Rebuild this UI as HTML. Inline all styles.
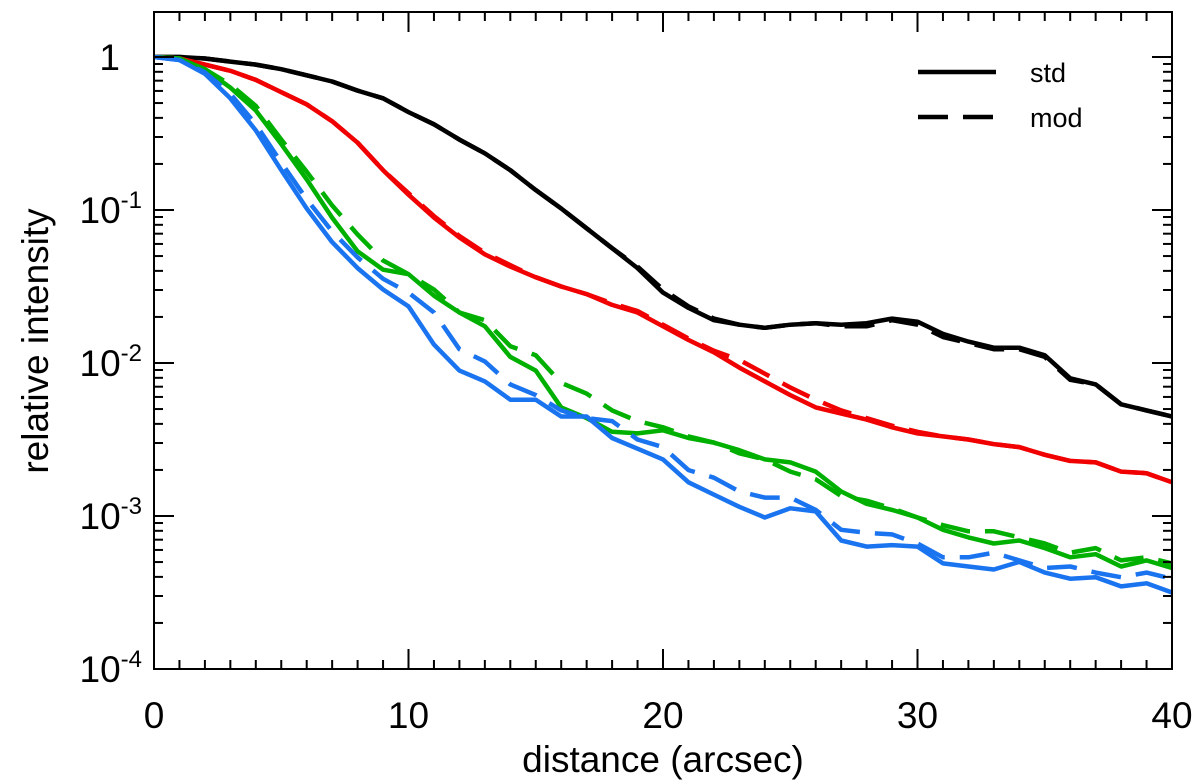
<!DOCTYPE html>
<html><head><meta charset="utf-8"><style>
html,body{margin:0;padding:0;background:#fff;}
svg{display:block;font-family:"Liberation Sans",sans-serif;}
</style></head><body>
<svg id="chart" width="1200" height="784">
<g id="plot"></g>
</svg>
<script>
const distances = Array.from({length:41},(_,i)=>i);
const blackStd = [0,0,-0.01,-0.03,-0.05,-0.08,-0.12,-0.16,-0.22,-0.27,-0.36,-0.44,-0.54,-0.63,-0.74,-0.87,-0.99,-1.12,-1.25,-1.38,-1.54,-1.64,-1.72,-1.75,-1.77,-1.75,-1.74,-1.75,-1.74,-1.71,-1.73,-1.81,-1.86,-1.90,-1.90,-1.95,-2.10,-2.14,-2.27,-2.31,-2.35];
const blackMod = [0,0,-0.01,-0.03,-0.05,-0.08,-0.12,-0.16,-0.22,-0.27,-0.36,-0.44,-0.54,-0.63,-0.74,-0.87,-0.99,-1.12,-1.25,-1.37,-1.52,-1.63,-1.71,-1.75,-1.77,-1.75,-1.74,-1.76,-1.76,-1.72,-1.75,-1.83,-1.87,-1.91,-1.91,-1.96,-2.11,-2.14,-2.27,-2.31,-2.35];
const redStd = [0,-0.01,-0.05,-0.09,-0.15,-0.23,-0.31,-0.42,-0.56,-0.74,-0.90,-1.05,-1.18,-1.29,-1.37,-1.44,-1.50,-1.55,-1.62,-1.67,-1.76,-1.85,-1.93,-2.03,-2.12,-2.21,-2.29,-2.33,-2.37,-2.42,-2.46,-2.48,-2.50,-2.53,-2.55,-2.60,-2.64,-2.65,-2.71,-2.72,-2.78];
const redMod = [0,-0.01,-0.05,-0.09,-0.15,-0.23,-0.31,-0.42,-0.56,-0.74,-0.89,-1.04,-1.17,-1.28,-1.36,-1.44,-1.50,-1.55,-1.61,-1.66,-1.75,-1.84,-1.92,-1.98,-2.07,-2.16,-2.24,-2.31,-2.36,-2.41,-2.45,-2.48,-2.50,-2.53,-2.55,-2.60,-2.64,-2.65,-2.71,-2.72,-2.78];
const greenStd = [0,-0.01,-0.08,-0.20,-0.35,-0.57,-0.80,-1.05,-1.27,-1.39,-1.42,-1.56,-1.67,-1.76,-1.96,-2.05,-2.29,-2.36,-2.45,-2.46,-2.44,-2.49,-2.52,-2.57,-2.63,-2.65,-2.71,-2.84,-2.92,-2.96,-3.01,-3.09,-3.14,-3.18,-3.16,-3.21,-3.27,-3.25,-3.33,-3.29,-3.34];
const greenMod = [0,-0.01,-0.08,-0.18,-0.32,-0.54,-0.75,-0.97,-1.16,-1.33,-1.42,-1.52,-1.67,-1.72,-1.89,-1.95,-2.13,-2.20,-2.31,-2.38,-2.42,-2.48,-2.52,-2.59,-2.63,-2.71,-2.76,-2.87,-2.90,-2.95,-3.01,-3.06,-3.10,-3.10,-3.14,-3.18,-3.24,-3.21,-3.29,-3.27,-3.31];
const blueStd = [0,-0.02,-0.11,-0.27,-0.48,-0.74,-0.99,-1.21,-1.38,-1.52,-1.63,-1.88,-2.05,-2.12,-2.24,-2.24,-2.35,-2.35,-2.49,-2.56,-2.63,-2.78,-2.86,-2.94,-3.01,-2.95,-2.97,-3.16,-3.20,-3.19,-3.20,-3.31,-3.33,-3.35,-3.30,-3.37,-3.41,-3.40,-3.46,-3.44,-3.50];
const blueMod = [0,-0.02,-0.10,-0.24,-0.44,-0.69,-0.93,-1.14,-1.31,-1.45,-1.54,-1.67,-1.91,-1.99,-2.14,-2.21,-2.31,-2.36,-2.38,-2.50,-2.55,-2.70,-2.75,-2.84,-2.88,-2.88,-2.96,-3.09,-3.11,-3.12,-3.18,-3.27,-3.27,-3.24,-3.29,-3.34,-3.33,-3.37,-3.40,-3.37,-3.41];
const xTicks = [0,10,20,30,40];
const yDecades = [0,-1,-2,-3,-4];

const NS="http://www.w3.org/2000/svg";
const g=document.getElementById('plot');
const L=154,R=1172,T=12,B=669;
const X=v=>L+(v-0)/(40-0)*(R-L);
const LOGMAX=0.294,LOGMIN=-4;
const Y=lv=>T+(LOGMAX-lv)/(LOGMAX-LOGMIN)*(B-T);
function mk(tag,attrs){const e=document.createElementNS(NS,tag);for(const k in attrs)e.setAttribute(k,attrs[k]);g.appendChild(e);return e;}

const series=[
 [blackStd,'#000','none','black-std-line'],[blackMod,'#000','30 15','black-mod-line'],
 [redStd,'#f00000','none','red-std-line'],[redMod,'#f00000','30 15','red-mod-line'],
 [greenStd,'#00b000','none','green-std-line'],[greenMod,'#00b000','30 15','green-mod-line'],
 [blueStd,'#1a74f0','none','blue-std-line'],[blueMod,'#1a74f0','30 15','blue-mod-line']];
series.forEach(s=>{
  const d=s[0].map((v,i)=>(i?'L':'M')+X(distances[i]).toFixed(1)+' '+Y(v).toFixed(1)).join(' ');
  const p=mk('path',{d:d,fill:'none',stroke:s[1],'stroke-width':4.5,'stroke-dasharray':s[2],'stroke-linejoin':'round'});
  
  
});

const fr=mk('rect',{x:L,y:T,width:R-L,height:B-T,fill:'none',stroke:'#000','stroke-width':2});



for(let v=0;v<=40;v++){
  const len=(v%10===0)?20:9;
  const t1=mk('line',{x1:X(v),x2:X(v),y1:B,y2:B-len,stroke:'#000','stroke-width':2});
  
  
  const t2=mk('line',{x1:X(v),x2:X(v),y1:T,y2:T+len,stroke:'#000','stroke-width':2});
  
  
}
xTicks.forEach(v=>{
  const t=mk('text',{x:X(v),y:728,'text-anchor':'middle','font-size':37});
  t.textContent=v;
  
  
});
for(let d=-4;d<=0;d++){
  for(let m=1;m<=9;m++){
    const lv=d+Math.log10(m);
    if(lv>LOGMAX)continue;
    const len=m===1?20:9;
    const a=mk('line',{x1:L,x2:L+len,y1:Y(lv),y2:Y(lv),stroke:'#000','stroke-width':2});
    
    
    const b=mk('line',{x1:R,x2:R-len,y1:Y(lv),y2:Y(lv),stroke:'#000','stroke-width':2});
    
    
  }
}
yDecades.forEach(d=>{
  const t=mk('text',{x:142,y:Y(d)+13,'text-anchor':'end','font-size':37});
  
  
  if(d===0){t.setAttribute('x',120);t.textContent='1';}
  else{
    const a=document.createElementNS(NS,'tspan');a.textContent='10';t.appendChild(a);
    const b=document.createElementNS(NS,'tspan');b.setAttribute('dy',-15);b.setAttribute('font-size',24);b.textContent=String(d);t.appendChild(b);
  }
});
const xt=mk('text',{x:663,y:772,'text-anchor':'middle','font-size':37});
xt.textContent='distance (arcsec)';


const yt=mk('text',{x:0,y:0,'text-anchor':'middle','font-size':37,transform:'translate(48,341) rotate(-90)'});
yt.textContent='relative intensity';


const l1=mk('line',{x1:918,x2:996,y1:72,y2:72,stroke:'#000','stroke-width':4.5});


const l2=mk('line',{x1:918,x2:996,y1:117,y2:117,stroke:'#000','stroke-width':4.5,'stroke-dasharray':'30 15'});


const t1=mk('text',{x:1030,y:82,'font-size':27});t1.textContent='std';


const t2=mk('text',{x:1030,y:127,'font-size':27});t2.textContent='mod';


</script>
</body></html>
